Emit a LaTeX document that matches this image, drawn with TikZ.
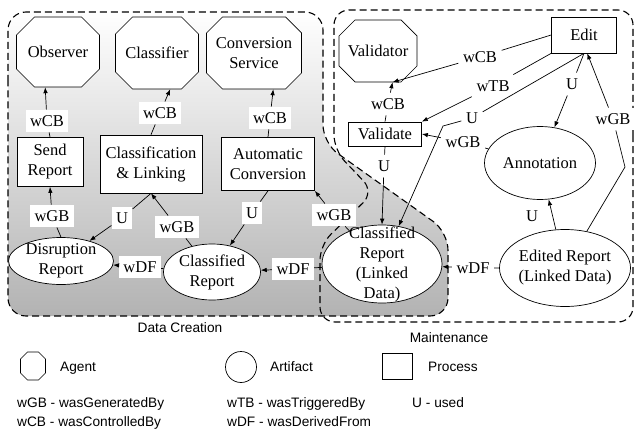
\documentclass[tikz,border=0pt]{standalone}
\usepackage{fontspec}
\setmainfont{Liberation Serif}
\setsansfont{Liberation Sans}
\usetikzlibrary{shapes.geometric,arrows.meta}
\newcommand{\nodefont}{\fontsize{16.5}{20}\selectfont}
\newcommand{\legfont}{\sffamily\fontsize{13.7}{16}\selectfont}
% octagon outline: centre x, centre y, half width, half height, chamfer
\newcommand{\drawoct}[5]{%
  \draw[line width=0.7pt, fill=white]
    ({#1-#3+#5},{#2-#4}) -- ({#1+#3-#5},{#2-#4}) -- ({#1+#3},{#2-#4+#5}) --
    ({#1+#3},{#2+#4-#5}) -- ({#1+#3-#5},{#2+#4}) -- ({#1-#3+#5},{#2+#4}) --
    ({#1-#3},{#2+#4-#5}) -- ({#1-#3},{#2-#4+#5}) -- cycle;}
\begin{document}
\begin{tikzpicture}[x=1pt,y=-1pt,
  base/.style={draw, line width=0.7pt, fill=white, font=\nodefont, align=center, inner sep=1pt},
  agent/.style={font=\nodefont, align=center, inner sep=0pt, rectangle},
  proc/.style={base, rectangle},
  art/.style={base, ellipse},
  txt/.style={font=\nodefont, align=center, inner sep=0pt},
  lab/.style={fill=white, font=\nodefont, inner xsep=4.5pt, inner ysep=5.5pt, text height=11.5pt, text depth=0pt},
  arr/.style={line width=0.7pt, -{Latex[length=6pt,width=4.5pt]}},
  region/.style={dash pattern=on 7pt off 4pt, line width=1.1pt},
  leg/.style={font=\legfont, inner sep=0pt}
]
\useasboundingbox (0,0) rectangle (637,433);

% regions
\shade[top color=white, bottom color=gray!60, rounded corners=18pt]
  (8,100) -- (8,12) -- (323,12) -- (323,143) -- (448,232) -- (448,316) -- (8,316) -- cycle;
\draw[region, rounded corners=18pt]
  (8,100) -- (8,12) -- (323,12) -- (323,143) -- (448,232) -- (448,316) -- (8,316) -- cycle;
\draw[region, rounded corners=15pt]
  (633,150) -- (633,10) -- (334,10) -- (334,150) -- (374,192) -- (320,245) -- (320,322) -- (633,322) -- cycle;

% agent octagons
\drawoct{58}{52}{41.5}{35}{18}
\drawoct{157}{53}{41.5}{36}{17}
\drawoct{254}{53}{47.5}{36}{16}
\drawoct{378}{51}{39}{31}{16}
\drawoct{33}{366}{12.5}{14}{7}

% data creation nodes
\node[agent, minimum width=83pt, minimum height=70pt] (obs) at (58,52) {Observer};
\node[agent, minimum width=83pt, minimum height=72pt] (cls) at (157,53) {Classifier};
\node[agent, minimum width=95pt, minimum height=72pt] (conv) at (254,53) {Conversion\\Service};
\node[proc, minimum width=66pt, minimum height=49pt] (send) at (50,162) {Send\\Report};
\node[proc, minimum width=102pt, minimum height=58pt] (clink) at (151,164) {Classification\\\& Linking};
\node[proc, minimum width=93pt, minimum height=53pt] (auto) at (268,164) {Automatic\\Conversion};
\node[art, minimum width=105pt, minimum height=47pt] (disr) at (61,261) {};
\node[txt] (disrt) at (61,261) {Disruption\\Report};
\node[art, minimum width=97pt, minimum height=56pt] (clrep) at (212,272) {};
\node[txt] (clrept) at (212,272) {Classified\\Report};
\node[art, minimum width=120pt, minimum height=78pt] (crld) at (382,264) {};
\node[txt] (crldt) at (382,264) {Classified\\Report\\(Linked\\Data)};

% maintenance nodes
\node[agent, minimum width=78pt, minimum height=62pt] (valr) at (378,51) {Validator};
\node[proc, minimum width=65pt, minimum height=36pt] (edit) at (584,35) {Edit};
\node[proc, minimum width=73pt, minimum height=24pt] (valid) at (385,134) {Validate};
\node[art, minimum width=111pt, minimum height=73pt] (annot) at (540,163) {};
\node[txt] (annott) at (540,163) {Annotation};
\node[art, minimum width=131pt, minimum height=77pt] (edrep) at (565,268) {};
\node[txt] (edrept) at (565,268) {Edited Report\\(Linked Data)};

% edge labels
\node[lab] (l1) at (47,121) {wCB};
\node[lab] (l2) at (160,113) {wCB};
\node[lab] (l3) at (270,118) {wCB};
\node[lab] (l4) at (52,216) {wGB};
\node[lab] (l5) at (122,218) {U};
\node[lab] (l6) at (177,227) {wGB};
\node[lab] (l7) at (252,213) {U};
\node[lab] (l8) at (334,215) {wGB};
\node[lab] (l9) at (140,267) {wDF};
\node[lab] (l10) at (293,269) {wDF};
\node[lab] (m1) at (480,57) {wCB};
\node[lab] (m2) at (388,104) {wCB};
\node[lab] (m3) at (493,86) {wTB};
\node[lab] (m4) at (472,118) {U};
\node[lab] (m5) at (463,142) {wGB};
\node[lab] (m6) at (572,84) {U};
\node[lab] (m7) at (384,166) {U};
\node[lab] (m8) at (532,216) {U};
\node[lab] (m9) at (613,119) {wGB};
\node[lab] (m10) at (473,268) {wDF};
\coordinate (k4) at (443,126);
\coordinate (k9) at (625,167);

% edges data creation
\draw[arr] (send.north) -- (l1) -- (obs.250);
\draw[arr] (clink.north) -- (l2) -- (cls.290);
\draw[arr] (auto.north) -- (l3) -- (conv.298);
\draw[arr] (disr.north) -- (l4) -- (send.south);
\draw[arr] (clink.south) -- (l5) -- (disr);
\draw[arr] (clrep) -- (l6) -- (clink.south);
\draw[arr] (auto.south) -- (l7) -- (clrep);
\draw[arr] (crld) -- (l8) -- (auto.south east);
\draw[arr] (clrep) -- (l9) -- (disr);
\draw[arr] (crld) -- (l10) -- (clrep);
% edges maintenance
\draw[arr] (edit.west) -- (m1) -- (valr.295);
\draw[arr] (valid.north) -- (m2) -- (valr.295);
\draw[arr] (edit.south west) -- (m3) -- (valid.north east);
\draw[arr] (edit.south) -- (m4) -- (k4) -- (crld);
\draw[arr] (annot) -- (m5) -- (valid.east);
\draw[arr] (edit.south) -- (m6) -- (annot);
\draw[arr] (valid.south) -- (m7) -- (crld.north);
\draw[arr] (edrep) -- (annot);
\draw[arr] (edrep) -- (k9) -- (m9) -- (edit.280);
\draw[arr] (edrep) -- (m10) -- (crld);

% region titles
\node[leg, anchor=base] (tdc) at (180,332) {Data Creation};
\node[leg, anchor=base] (tmt) at (449,342) {Maintenance};

% legend
\node[agent, minimum width=25pt, minimum height=28pt] (legag) at (33,366) {};
\node[leg, anchor=base west] (legagt) at (60,371) {Agent};
\node[base, circle, inner sep=0pt, minimum size=31pt] (legar) at (241,367) {};
\node[leg, anchor=base west] (legart) at (270,371) {Artifact};
\node[proc, inner sep=0pt, minimum width=30pt, minimum height=26pt] (legpr) at (397,366) {};
\node[leg, anchor=base west] (legprt) at (428,371) {Process};
\node[leg, anchor=base west] (d1) at (17,407) {wGB - wasGeneratedBy};
\node[leg, anchor=base west] (d2) at (17,426) {wCB - wasControlledBy};
\node[leg, anchor=base west] (d3) at (227,407) {wTB - wasTriggeredBy};
\node[leg, anchor=base west] (d4) at (227,426) {wDF - wasDerivedFrom};
\node[leg, anchor=base west] (d5) at (412,407) {U - used};
\end{tikzpicture}
\end{document}
